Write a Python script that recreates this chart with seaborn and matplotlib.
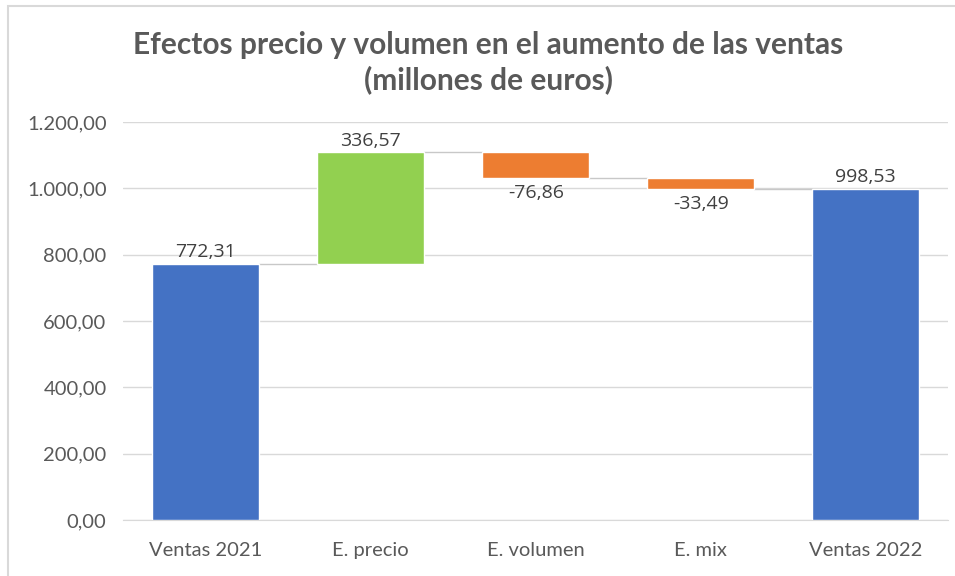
import numpy as np
import pandas as pd
import matplotlib
matplotlib.use("Agg")
import matplotlib.pyplot as plt
import seaborn as sns
from matplotlib.patches import Rectangle
from matplotlib.ticker import FuncFormatter

# datos del gráfico cascada
categorias = ["Ventas 2021", "E. precio", "E. volumen", "E. mix", "Ventas 2022"]
valores = [772.31, 336.57, -76.86, -33.49, 998.53]
tipos = ["total", "sube", "baja", "baja", "total"]

colores = {"total": "#4472C4", "sube": "#92D050", "baja": "#ED7D31"}


def fmt_es(v, pos=None):
    s = f"{v:,.2f}"
    return s.replace(",", "X").replace(".", ",").replace("X", ".")


# bases de cada barra
bases = []
acum = 0
for v, t in zip(valores, tipos):
    if t == "total":
        bases.append(0)
        acum = v
    else:
        bases.append(acum if v > 0 else acum + v)
        acum += v
alturas = [abs(v) for v in valores]

df = pd.DataFrame({"cat": categorias, "alto": alturas, "base": bases, "tipo": tipos})

sns.set_style("white")
plt.rcParams["font.family"] = ["Lato", "DejaVu Sans"]

fig = plt.figure(figsize=(9.55, 5.76), dpi=100)
ax = fig.add_axes([0.129, 0.097, 0.864, 0.691])

# una barra por categoria, cada una con su base
for i in range(len(df)):
    fila = df.iloc[[i]]
    sns.barplot(fila, x="cat", y="alto", order=categorias, color=colores[fila["tipo"].iloc[0]],
                bottom=fila["base"].iloc[0], width=0.65, saturation=1, ax=ax, zorder=3)

# conectores
niveles = np.cumsum(valores[:4]).tolist()
for i in range(len(categorias) - 1):
    y = niveles[i]
    ax.plot([i + 0.325, i + 1 - 0.325], [y, y], color="#C8C8C8", lw=1, zorder=2)

# etiquetas
for i, (v, b, h) in enumerate(zip(valores, bases, alturas)):
    if v >= 0:
        ax.text(i, b + h + 8, fmt_es(v), ha="center", va="bottom", fontsize=14,
                color="#404040", family=["Open Sans", "DejaVu Sans"])
    else:
        ax.text(i, b - 18, fmt_es(v), ha="center", va="top", fontsize=14,
                color="#404040", family=["Open Sans", "DejaVu Sans"])

ax.set_xlim(-0.5, 4.5)
ax.set_ylim(0, 1200)
ax.set_yticks(np.arange(0, 1201, 200))
ax.yaxis.set_major_formatter(FuncFormatter(fmt_es))
ax.grid(axis="y", color="#D9D9D9", lw=1, zorder=0)
ax.set_axisbelow(True)
for s in ax.spines.values():
    s.set_visible(False)
ax.spines["bottom"].set_visible(True)
ax.spines["bottom"].set_color("#D9D9D9")
ax.tick_params(axis="y", length=0, labelsize=14.5, colors="#595959", pad=12)
ax.tick_params(axis="x", length=0, labelsize=14.5, colors="#595959", pad=16)
ax.set_xlabel("")
ax.set_ylabel("")

fig.text(0.511, 0.892, "Efectos precio y volumen en el aumento de las ventas\n(millones de euros)",
         ha="center", va="center", fontsize=21.5, fontweight="bold", color="#595959", linespacing=1.25)

fig.patches.append(Rectangle((0.008, -0.01), 1.0, 1.0, transform=fig.transFigure,
                             fill=False, edgecolor="#D9D9D9", lw=1.5))

fig.savefig("out.png", dpi=100)
